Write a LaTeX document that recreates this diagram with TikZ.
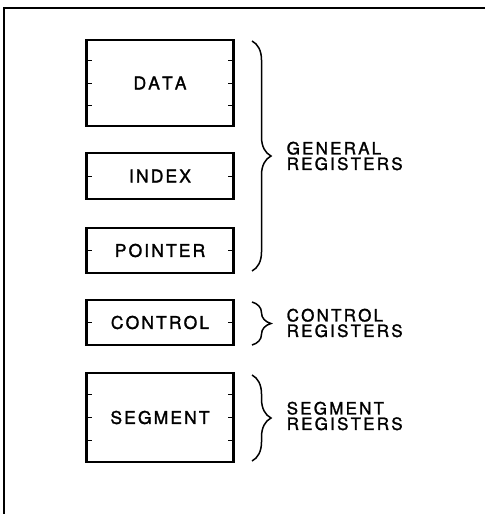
\documentclass[tikz,border=0pt]{standalone}
\usepackage{fontspec}
\setmainfont{TeX Gyre Heros}
\newfontfamily\regfont[LetterSpace=12,FakeBold=1.5,Kerning=Off]{TeX Gyre Heros}
\newfontfamily\grpfont[LetterSpace=13,FakeBold=1.5,Kerning=Off]{TeX Gyre Heros}
\usetikzlibrary{calc,positioning,decorations.pathreplacing}

\tikzset{
  regbox/.style={draw, line width=2.4pt, minimum width=147pt, inner sep=0pt,
    font=\regfont\fontsize{17.5}{19}\selectfont},
  regtick/.style={line width=1pt},
  grpbrace/.style={line width=1.5pt, decorate,
    decoration={brace, amplitude=19pt, aspect=0.5}},
  grplabel/.style={anchor=west, align=left, inner sep=0pt,
    font=\grpfont\fontsize{17}{15.5}\selectfont}
}

\begin{document}
\begin{tikzpicture}[x=1pt,y=1pt]

    \useasboundingbox (0,0) rectangle (485,-514);

    % DRAW FRAME
    \draw[line width=1.6pt] (4,-514) -- (4,-8) -- (485,-8);

    % DRAW REGISTER BOXES
    \node[regbox, minimum height=86pt] (data) at (160,-83) {DATA};
    \node[regbox, minimum height=46pt] (index) at (160,-176) {INDEX};
    \node[regbox, minimum height=45pt] (pointer) at (160,-250.5) {POINTER};
    \node[regbox, minimum height=45pt] (control) at (160,-322.5) {CONTROL};
    \node[regbox, minimum height=89pt] (segment) at (160,-417.5) {SEGMENT};

    % DRAW TICKS
    \foreach \r in {data,segment}
      \foreach \f in {0.25,0.5,0.75} {
        \draw[regtick] ($(\r.north west)!\f!(\r.south west)$) -- ++(7,0);
        \draw[regtick] ($(\r.north east)!\f!(\r.south east)$) -- ++(-7,0);
      }
    \foreach \r in {index,pointer,control} {
      \draw[regtick] (\r.west) -- ++(7,0);
      \draw[regtick] (\r.east) -- ++(-7,0);
    }

    % DRAW BRACES
    \coordinate (gtop) at (252,-41);
    \coordinate (gbot) at (252,-271);
    \coordinate (ctop) at (252,-302);
    \coordinate (cbot) at (252,-345);
    \coordinate (stop) at (252,-375);
    \coordinate (sbot) at (252,-461);
    \draw[grpbrace] (gtop) -- (gbot);
    \draw[grpbrace] (ctop) -- (cbot);
    \draw[grpbrace] (stop) -- (sbot);

    % DRAW LABELS
    \node[grplabel] (general) at (286.5,-156) {GENERAL\\REGISTERS};
    \node[grplabel] (controlreg) at (286.5,-323) {CONTROL\\REGISTERS};
    \node[grplabel] (segmentreg) at (286.5,-416) {SEGMENT\\REGISTERS};

\end{tikzpicture}
\end{document}
